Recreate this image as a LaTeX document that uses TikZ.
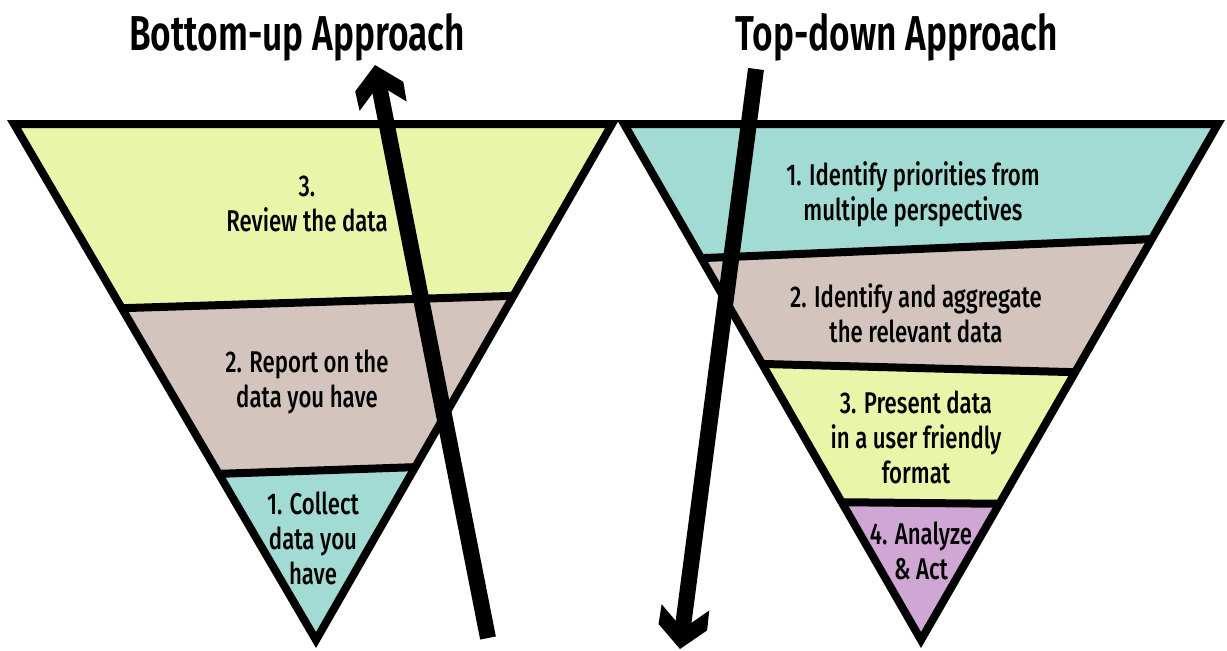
\documentclass[tikz,border=0pt]{standalone}
\usepackage{fontspec}
\setmainfont{Fira Sans Medium}[FakeStretch=0.74]
\newfontfamily\headfont{Fira Sans SemiBold}[FakeStretch=0.72]
\usetikzlibrary{calc}

\definecolor{bandyellow}{HTML}{E9F5A9}
\definecolor{bandtaupe}{HTML}{D3C5BD}
\definecolor{bandteal}{HTML}{A2DAD4}
\definecolor{bandlilac}{HTML}{CFA6D4}

\begin{document}
\begin{tikzpicture}[x=1pt,y=-1pt,
  outline/.style={line width=8pt, line join=miter, draw=black},
  divider/.style={line width=8pt, draw=black},
  shaft/.style={line width=16pt, draw=black},
  label/.style={font=\fontsize{30}{35}\selectfont, align=center, inner sep=0pt},
  heading/.style={font=\headfont\fontsize{49}{52}\selectfont, inner sep=0pt, anchor=base},
  headshape/.pic={\fill[black] (0,0) -- (-22,24.5) -- (-42,24) -- (-27,7.5)
      -- (-27,-7.5) -- (-42,-24) -- (-22,-24.5) -- cycle;}]

\useasboundingbox (0,0) rectangle (1227,651);
\fill[white] (0,0) rectangle (1227,651);

% ---- left funnel: bottom-up ----
\coordinate (A) at (14,124);
\coordinate (B) at (612,124);
\coordinate (C) at (316,640);
\coordinate (L1l) at ($(A)!0.357!(C)$);
\coordinate (L1r) at ($(B)!0.333!(C)$);
\coordinate (L2l) at ($(A)!0.678!(C)$);
\coordinate (L2r) at ($(B)!0.665!(C)$);

\fill[bandyellow] (A) -- (B) -- (L1r) -- (L1l) -- cycle;
\fill[bandtaupe] (L1l) -- (L1r) -- (L2r) -- (L2l) -- cycle;
\fill[bandteal] (L2l) -- (L2r) -- (C) -- cycle;
\draw[divider] (L1l) -- (L1r);
\draw[divider] (L2l) -- (L2r);
\draw[outline] (A) -- (B) -- (C) -- cycle;

\node[label] (review) at (307,204) {3.\\Review the data};
\node[label] (report) at (307,382) {2. Report on the\\data you have};
\node[label] (collect) at (313,538) {1. Collect\\data you\\have};

% ---- right funnel: top-down ----
\coordinate (D) at (624,124);
\coordinate (E) at (1218,124);
\coordinate (F) at (921,640);
\coordinate (Ral) at ($(D)!0.260!(F)$);
\coordinate (Rar) at ($(E)!0.223!(F)$);
\coordinate (Rbl) at ($(D)!0.465!(F)$);
\coordinate (Rbr) at ($(E)!0.481!(F)$);
\coordinate (Rcl) at ($(D)!0.733!(F)$);
\coordinate (Rcr) at ($(E)!0.736!(F)$);

\fill[bandteal] (D) -- (E) -- (Rar) -- (Ral) -- cycle;
\fill[bandtaupe] (Ral) -- (Rar) -- (Rbr) -- (Rbl) -- cycle;
\fill[bandyellow] (Rbl) -- (Rbr) -- (Rcr) -- (Rcl) -- cycle;
\fill[bandlilac] (Rcl) -- (Rcr) -- (F) -- cycle;
\draw[divider] (Ral) -- (Rar);
\draw[divider] (Rbl) -- (Rbr);
\draw[divider] (Rcl) -- (Rcr);
\draw[outline] (D) -- (E) -- (F) -- cycle;

\node[label] (priorities) at (913,194) {1. Identify priorities from\\multiple perspectives};
\node[label] (aggregate) at (916,313) {2. Identify and aggregate\\the relevant data};
\node[label] (present) at (916,437) {3. Present data\\in a user friendly\\format};
\node[label] (analyze) at (921,551) {4. Analyze\\\& Act};

% ---- headings ----
\node[heading] (bottomup) at (297,50) {Bottom-up Approach};
\node[heading] (topdown) at (897,50) {Top-down Approach};

% ---- direction arrows ----
\coordinate (upTail) at (488,638);
\coordinate (upTip) at (375,65);
\coordinate (downTail) at (756,69);
\coordinate (downTip) at (680,649);

\draw[shaft] (upTail) -- ($(upTip)!26pt!(upTail)$);
\path let \p1=($(upTip)-(upTail)$), \n1={atan2(\y1,\x1)} in
  (upTip) pic[rotate=\n1]{headshape};
\draw[shaft] (downTail) -- ($(downTip)!26pt!(downTail)$);
\path let \p1=($(downTip)-(downTail)$), \n1={atan2(\y1,\x1)} in
  (downTip) pic[rotate=\n1]{headshape};
\end{tikzpicture}
\end{document}
